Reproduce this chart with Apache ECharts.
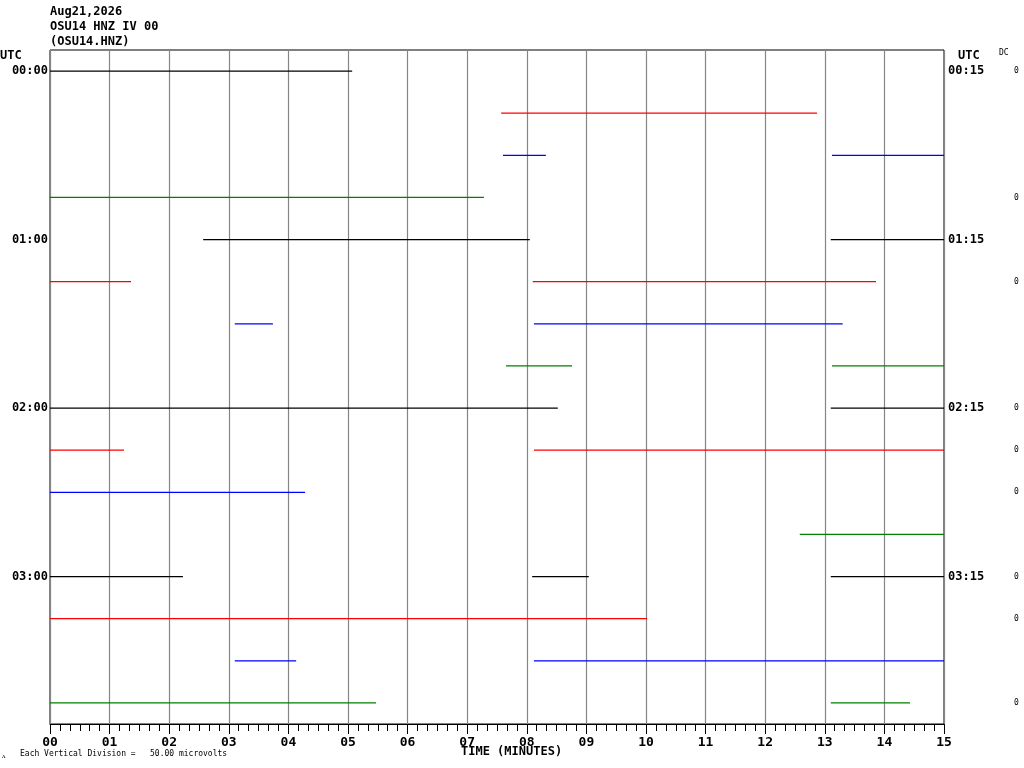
<!DOCTYPE html>
<html>
<head>
<meta charset="utf-8">
<script src="https://cdn.jsdelivr.net/npm/echarts@6/dist/echarts.min.js"></script>
<style>html,body{margin:0;padding:0;background:#fff}#c{width:1024px;height:768px}</style>
</head>
<body>
<div id="c"></div>
<script>
// ---- data ----
const titleLines = ['Aug21,2026', 'OSU14 HNZ IV 00', '(OSU14.HNZ)'];
const leftLabels = ['00:00','','','','01:00','','','','02:00','','','','03:00','','',''];
const rightLabels = ['00:15','','','','01:15','','','','02:15','','','','03:15','','',''];
const dcLabels = ['0','','','0','','0','','','0','0','0','','0','0','','0'];
const rowColors = ['#000000', '#ff0000', '#0000ff', '#008000'];
// [row, start minute, end minute]
const segments = [
  [0, 0, 5.07],
  [1, 7.57, 12.87],
  [2, 7.60, 8.32], [2, 13.12, 15],
  [3, 0, 7.28],
  [4, 2.57, 8.05], [4, 13.10, 15],
  [5, 0, 1.36], [5, 8.10, 13.86],
  [6, 3.10, 3.74], [6, 8.12, 13.30],
  [7, 7.65, 8.76], [7, 13.12, 15],
  [8, 0, 8.52], [8, 13.10, 15],
  [9, 0, 1.24], [9, 8.12, 15],
  [10, 0, 4.28],
  [11, 12.58, 15],
  [12, 0, 2.23], [12, 8.09, 9.04], [12, 13.10, 15],
  [13, 0, 10.02],
  [14, 3.10, 4.13], [14, 8.12, 15],
  [15, 0, 5.47], [15, 13.10, 14.43]
];

// ---- build ----
const series = [];
for (let r = 0; r < 16; r++) {
  const data = [];
  segments.filter(s => s[0] === r).forEach(s => {
    if (data.length) data.push(null);
    data.push([s[1], r], [s[2], r]);
  });
  if (!data.length) continue;
  series.push({
    type: 'line', yAxisIndex: 0, data: data, showSymbol: false, symbol: 'none',
    connectNulls: false, animation: false, silent: true,
    lineStyle: { color: rowColors[r % 4], width: 1.3 }
  });
}
const mono = '"DejaVu Sans Mono", monospace';
const rowIdx = leftLabels.map((_, i) => String(i));
const chart = echarts.init(document.getElementById('c'), null, { renderer: 'canvas' });
chart.setOption({
  backgroundColor: '#fff',
  animation: false,
  grid: { left: 50, right: 80, top: 50, bottom: 44, show: true, borderColor: '#000', borderWidth: 1, backgroundColor: 'transparent' },
  xAxis: {
    type: 'value', min: 0, max: 15, interval: 1,
    axisLine: { show: true, onZero: false, lineStyle: { color: '#000', width: 1 } },
    axisTick: { show: true, length: 10, lineStyle: { color: '#000' } },
    minorTick: { show: true, splitNumber: 6, length: 7, lineStyle: { color: '#000' } },
    splitLine: { show: true, lineStyle: { color: '#858585', width: 1.2 } },
    axisLabel: { margin: 12, color: '#000', fontFamily: mono, fontWeight: 'bold', fontSize: 13,
      formatter: v => String(v).padStart(2, '0') }
  },
  yAxis: [
    { type: 'category', data: rowIdx, inverse: true, boundaryGap: true, position: 'left',
      axisLine: { show: false }, axisTick: { show: false }, splitLine: { show: false },
      axisLabel: { interval: 0, margin: 2, color: '#000', fontFamily: mono, fontWeight: 'bold', fontSize: 12,
        formatter: (v, i) => leftLabels[i] } },
    { type: 'category', data: rowIdx, inverse: true, boundaryGap: true, position: 'right',
      axisLine: { show: false }, axisTick: { show: false }, splitLine: { show: false },
      axisLabel: { interval: 0, margin: 4, color: '#000', fontFamily: mono, fontWeight: 'bold', fontSize: 12,
        formatter: (v, i) => rightLabels[i] } },
    { type: 'category', data: rowIdx, inverse: true, boundaryGap: true, position: 'right', offset: 70,
      axisLine: { show: false }, axisTick: { show: false }, splitLine: { show: false },
      axisLabel: { interval: 0, margin: 0, color: '#000', fontFamily: mono, fontSize: 8,
        formatter: (v, i) => dcLabels[i] } }
  ],
  series: series,
  graphic: [
    ...titleLines.map((t, i) => ({ type: 'text', left: 50, top: 6 + i * 15,
      style: { text: t, font: 'bold 12px ' + mono, fill: '#000' } })),
    { type: 'text', left: 0, top: 50, style: { text: 'UTC', font: 'bold 12px ' + mono, fill: '#000' } },
    { type: 'text', left: 958, top: 50, style: { text: 'UTC', font: 'bold 12px ' + mono, fill: '#000' } },
    { type: 'text', left: 999, top: 49, style: { text: 'DC', font: '8px ' + mono, fill: '#000' } },
    { type: 'text', left: 461, top: 746, style: { text: 'TIME (MINUTES)', font: 'bold 12px ' + mono, fill: '#000' } },
    { type: 'text', left: 20, top: 750, style: { text: 'Each Vertical Division =   50.00 microvolts', font: '8px ' + mono, fill: '#000' } },
    { type: 'text', left: 2, top: 753, style: { text: 'ᴧ', font: '7px ' + mono, fill: '#000' } }
  ]
});
</script>
</body>
</html>
